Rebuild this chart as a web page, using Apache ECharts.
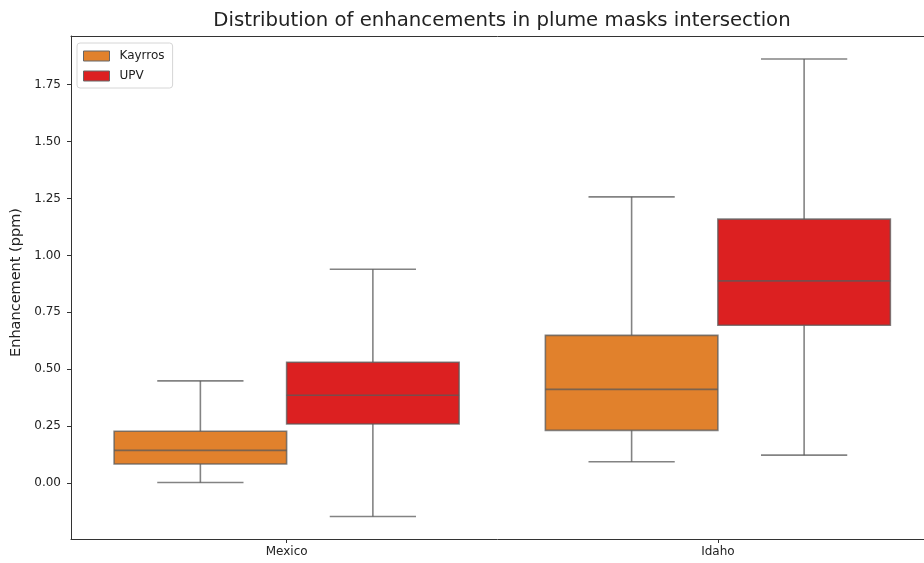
<!DOCTYPE html>
<html>
<head>
<meta charset="utf-8">
<script src="https://cdn.jsdelivr.net/npm/echarts@6/dist/echarts.min.js"></script>
<style>
  html, body { margin: 0; padding: 0; background: #fff; }
  #chart { width: 924px; height: 563px; }
</style>
</head>
<body>
<div id="chart"></div>
<script>
// Regions along the x axis (placed at positions 0, 1, ...)
const categories = ['Mexico', 'Idaho'];
const categoryPositions = [0, 1];

// Box statistics per region: [lower whisker, Q1, median, Q3, upper whisker] (ppm)
const kayrrosStats = [
  [0.003, 0.084, 0.144, 0.228, 0.449],
  [0.094, 0.232, 0.412, 0.649, 1.257]
];
const upvStats = [
  [-0.146, 0.260, 0.386, 0.531, 0.939],
  [0.123, 0.693, 0.888, 1.159, 1.862]
];

// Y axis tick values
const yTicks = [0, 0.25, 0.5, 0.75, 1.0, 1.25, 1.5, 1.75];

const seriesNames = ['Kayrros', 'UPV'];
const seriesColors = ['#e1812c', '#dc2021'];
const lineGray = '#5a5a5a';
const fontFamily = 'DejaVu Sans';

// x range: each category occupies one unit; the right edge runs past the canvas
const xMin = -0.5;
const xMax = 1.478;

function toRows(stats) {
  return stats.map((s, i) => [categoryPositions[i]].concat(s));
}

// Draws one box-and-whisker per category, shifted left/right within the band
function makeRenderer(shift, fill) {
  return function (params, api) {
    const pos = api.value(0);
    const band = api.size([1, 0])[0];
    const cx = api.coord([pos + shift, 0])[0];
    const boxW = 0.4 * band;
    const capW = boxW / 2;
    const y = (k) => api.coord([pos, api.value(k)])[1];
    const yLow = y(1), yQ1 = y(2), yMed = y(3), yQ3 = y(4), yHigh = y(5);
    const ls = { stroke: lineGray, lineWidth: 1.6, opacity: 0.75 };
    return {
      type: 'group',
      children: [
        { type: 'rect', shape: { x: cx - boxW / 2, y: yQ3, width: boxW, height: yQ1 - yQ3 },
          style: { fill: fill } },
        { type: 'line', shape: { x1: cx, y1: yQ1, x2: cx, y2: yLow }, style: ls },
        { type: 'line', shape: { x1: cx, y1: yQ3, x2: cx, y2: yHigh }, style: ls },
        { type: 'line', shape: { x1: cx - capW / 2, y1: yLow, x2: cx + capW / 2, y2: yLow }, style: ls },
        { type: 'line', shape: { x1: cx - capW / 2, y1: yHigh, x2: cx + capW / 2, y2: yHigh }, style: ls },
        { type: 'rect', shape: { x: cx - boxW / 2, y: yQ3, width: boxW, height: yQ1 - yQ3 },
          style: { fill: null, stroke: lineGray, lineWidth: 1.6, opacity: 0.75 } },
        { type: 'line', shape: { x1: cx - boxW / 2, y1: yMed, x2: cx + boxW / 2, y2: yMed }, style: ls }
      ]
    };
  };
}

const chart = echarts.init(document.getElementById('chart'), null, { renderer: 'canvas' });

chart.setOption({
  animation: false,
  backgroundColor: '#ffffff',
  textStyle: { fontFamily: fontFamily },
  title: {
    text: 'Distribution of enhancements in plume masks intersection',
    left: 502,
    textAlign: 'center',
    top: 11,
    padding: 0,
    textStyle: { fontFamily: fontFamily, fontSize: 19.7, fontWeight: 'normal', color: '#222' }
  },
  legend: {
    orient: 'vertical',
    left: 77,
    top: 43,
    padding: [7, 8, 6, 6],
    itemWidth: 26,
    itemHeight: 10,
    itemGap: 8,
    backgroundColor: 'rgba(255,255,255,0.8)',
    borderColor: '#d6d6d6',
    borderWidth: 1,
    borderRadius: 3,
    textStyle: { fontFamily: fontFamily, fontSize: 12, color: '#222', lineHeight: 12, padding: [0, 0, 0, 5] },
    data: seriesNames.map((n, i) => ({
      name: n,
      icon: 'rect',
      itemStyle: { color: seriesColors[i], borderColor: '#666', borderWidth: 1 }
    }))
  },
  grid: {
    left: 71,
    right: 0,
    top: 36,
    bottom: 24
  },
  xAxis: [
    {
      type: 'value',
      position: 'bottom',
      min: xMin,
      max: xMax,
      axisLine: { show: true, onZero: false, lineStyle: { color: '#333', width: 1 } },
      axisTick: { show: true, length: 4, customValues: categoryPositions, lineStyle: { color: '#333' } },
      axisLabel: {
        fontFamily: fontFamily, fontSize: 12, color: '#222', margin: 7,
        customValues: categoryPositions,
        formatter: (v) => categories[Math.round(v)]
      },
      splitLine: { show: false }
    },
    {
      // top spine
      type: 'value',
      position: 'top',
      min: xMin,
      max: xMax,
      axisLine: { show: true, onZero: false, lineStyle: { color: '#333', width: 1 } },
      axisTick: { show: false },
      axisLabel: { show: false },
      splitLine: { show: false }
    }
  ],
  yAxis: {
    type: 'value',
    min: -0.245,
    max: 1.963,
    name: 'Enhancement (ppm)',
    nameLocation: 'middle',
    nameRotate: 90,
    nameGap: 44,
    nameTextStyle: { fontFamily: fontFamily, fontSize: 14.5, color: '#222', padding: [0, 0, 0, 10] },
    axisLine: { show: true, onZero: false, lineStyle: { color: '#333', width: 1 } },
    axisTick: { show: true, length: 4, customValues: yTicks, lineStyle: { color: '#333' } },
    axisLabel: {
      fontFamily: fontFamily, fontSize: 12, color: '#222', margin: 10,
      customValues: yTicks,
      formatter: (v) => v.toFixed(2)
    },
    splitLine: { show: false }
  },
  series: [
    {
      name: seriesNames[0],
      type: 'custom',
      xAxisIndex: 0,
      itemStyle: { color: seriesColors[0] },
      renderItem: makeRenderer(-0.2, seriesColors[0]),
      encode: { x: 0, y: [1, 2, 3, 4, 5] },
      data: toRows(kayrrosStats)
    },
    {
      name: seriesNames[1],
      type: 'custom',
      xAxisIndex: 0,
      itemStyle: { color: seriesColors[1] },
      renderItem: makeRenderer(0.2, seriesColors[1]),
      encode: { x: 0, y: [1, 2, 3, 4, 5] },
      data: toRows(upvStats)
    }
  ]
});
</script>
</body>
</html>
